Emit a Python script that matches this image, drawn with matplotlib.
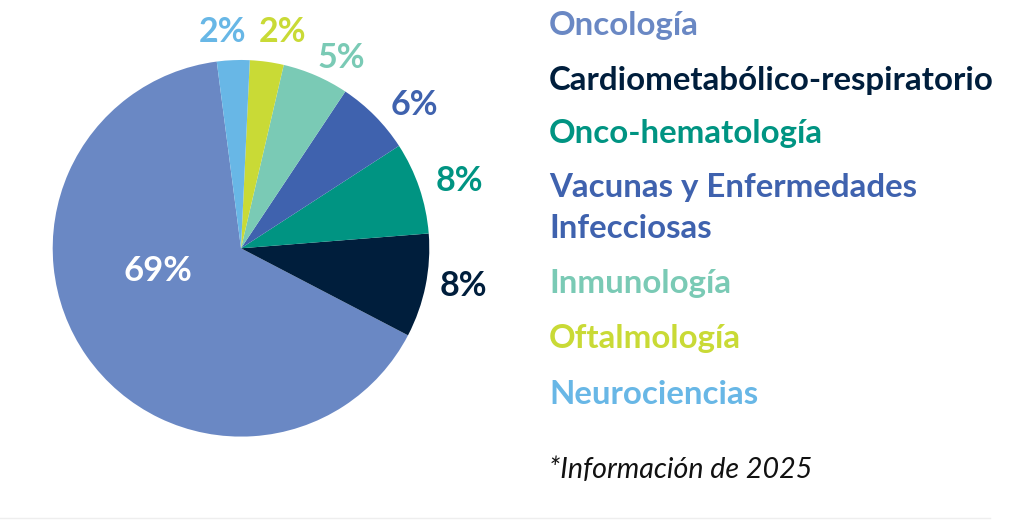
import matplotlib
matplotlib.use("Agg")
import matplotlib.pyplot as plt
from matplotlib.lines import Line2D

# data (legend order)
areas = ["Oncología", "Cardiometabólico-respiratorio", "Onco-hematología",
         "Vacunas y Enfermedades\nInfecciosas", "Inmunología", "Oftalmología", "Neurociencias"]
shares = [65.3, 8.9, 7.9, 6.5, 5.7, 2.9, 2.8]
pct_labels = ["69%", "8%", "8%", "6%", "5%", "2%", "2%"]
colors = ["#6a88c4", "#001e3c", "#009482", "#3f62ae", "#7acab5", "#c9da36", "#68b7e6"]
label_colors = ["white"] + colors[1:]
note = "*Información de 2025"

# label positions around the pie (axes units, radius = 1)
label_pos = [(-0.44, -0.12), (1.18, -0.20), (1.16, 0.36), (0.92, 0.76),
             (0.53, 1.01), (0.22, 1.15), (-0.10, 1.15)]
legend_y = [35, 90, 143, 197, 293, 348, 404]   # first-line baselines, px from top
line_gap = 41

W, H = 1012, 522
fig = plt.figure(figsize=(W / 100, H / 100), dpi=100)
fig.patch.set_facecolor("white")

cx, cy, r = 241, 248.3, 188.3
ax = fig.add_axes([(cx - r) / W, (H - cy - r) / H, 2 * r / W, 2 * r / H])
ax.pie(shares, colors=colors, startangle=97.4, radius=1, center=(0, 0),
       wedgeprops=dict(linewidth=0))
ax.set_xlim(-1, 1)
ax.set_ylim(-1, 1)
ax.set_aspect("equal")
ax.axis("off")

for (x, y), txt, c in zip(label_pos, pct_labels, label_colors):
    fs = 25 if txt == "69%" else 24.5
    ax.text(x, y, txt, color=c, fontsize=fs, fontweight="bold", family="Lato",
            ha="center", va="center")

for name, c, yb in zip(areas, colors, legend_y):
    for i, part in enumerate(name.split("\n")):
        fig.text(549 / W, 1 - (yb + i * line_gap) / H, part, color=c, fontsize=23.8,
                 fontweight="bold", family="Lato", ha="left", va="baseline")

fig.text(549 / W, 1 - 478 / H, note, color="#111111", fontsize=20.6,
         fontweight="normal", style="italic", family="Lato", ha="left", va="baseline")

fig.add_artist(Line2D([0, 990 / W], [1 - 518 / H, 1 - 518 / H], color="#eeeeee",
                      linewidth=1, transform=fig.transFigure))

fig.savefig("out.png", dpi=100, facecolor="white")
